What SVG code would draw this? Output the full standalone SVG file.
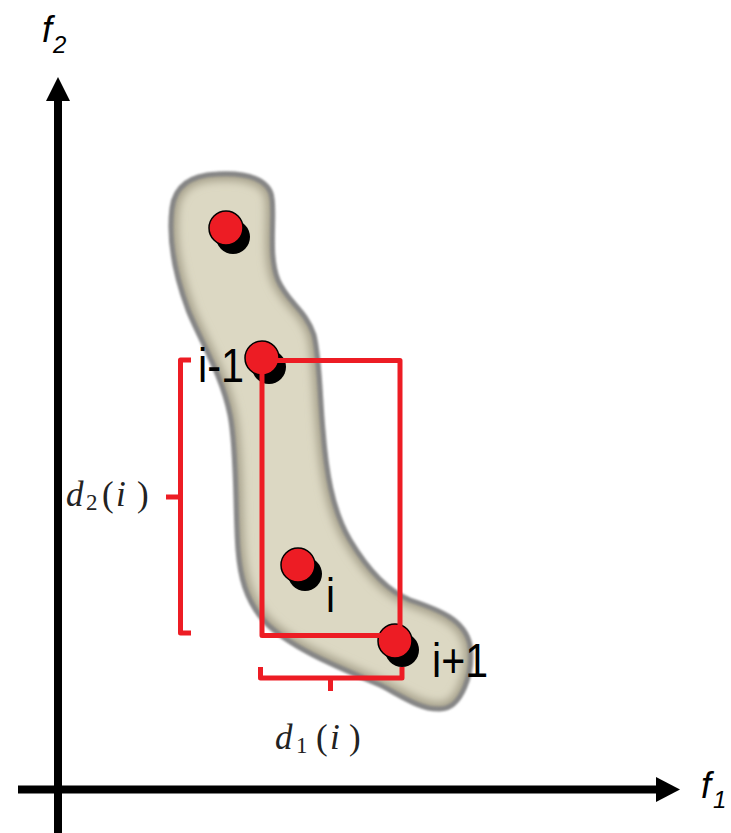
<svg xmlns="http://www.w3.org/2000/svg" width="731" height="833" viewBox="0 0 731 833">
<style>
.axis{stroke:#000;stroke-width:8;fill:none}
.red{stroke:#ed1c24;stroke-width:5;fill:none;stroke-linejoin:round;stroke-linecap:butt}
.lbl{font-family:"Liberation Sans",Arial,sans-serif;fill:#000}
.ax{font-family:"Liberation Sans",Arial,sans-serif;font-style:italic;fill:#000}
.math{font-family:"Liberation Serif","Times New Roman",serif;fill:#222}
.pr{fill:#ed1c24;stroke:#000;stroke-width:1.5}
.pb{fill:#000}
</style>
<defs>
<path id="blob" d="M 217,174 C 248,172 270,180 272,198 C 275,220 268,255 278,280 C 288,303 306,310 314,335 C 320,360 320,400 323,430 C 326,470 332,510 350,540 C 365,565 385,590 410,600 C 440,610 465,620 470,645 C 474,672 462,709 440,709 C 420,710 400,695 380,685 C 340,668 290,648 265,622 C 245,600 240,575 238,550 C 235,510 237,450 230,415 C 222,375 200,340 188,310 C 175,275 168,240 172,208 C 175,185 192,175 217,174 Z"/>
<clipPath id="bc"><use href="#blob"/></clipPath>
<filter id="blur" x="-20%" y="-20%" width="140%" height="140%"><feGaussianBlur stdDeviation="4"/></filter>
<filter id="soft" x="-20%" y="-20%" width="140%" height="140%"><feGaussianBlur stdDeviation="0.8"/></filter>
<g id="pt"><circle class="pb" cx="7" cy="9" r="17"/><circle class="pr" cx="0" cy="0" r="17"/></g>
</defs>

<g id="connectors">
<line class="axis" x1="58" y1="833" x2="58" y2="98"/>
<polygon points="58,77 46,101 70,101" fill="#000"/>
<line class="axis" x1="18" y1="789.5" x2="659" y2="789.5"/>
<polygon points="680,789.5 656,777 656,802" fill="#000"/>
</g>

<g id="axis-labels">
<text class="ax" x="42" y="42" font-size="36">f</text>
<text class="ax" x="53" y="53" font-size="24">2</text>
<text class="ax" x="701" y="798" font-size="36">f</text>
<text class="ax" x="713" y="808" font-size="24">1</text>
</g>

<g id="front">
<use href="#blob" fill="#dcd8c3"/>
<g clip-path="url(#bc)"><use href="#blob" fill="none" stroke="#a7a28d" stroke-width="14" filter="url(#blur)"/></g>
<use href="#blob" fill="none" stroke="#868686" stroke-width="5" filter="url(#soft)"/>
</g>

<g id="labels">
<text class="lbl" x="198" y="382" font-size="48" textLength="46" lengthAdjust="spacingAndGlyphs">i-1</text>
<text class="lbl" x="326" y="612" font-size="48" textLength="9" lengthAdjust="spacingAndGlyphs">i</text>
<text class="lbl" x="432" y="677" font-size="48" textLength="56" lengthAdjust="spacingAndGlyphs">i+1</text>
</g>

<g id="p1"><use href="#pt" x="226" y="228"/></g>
<g id="p-im1"><use href="#pt" x="262" y="358"/></g>
<g id="p-i"><use href="#pt" x="298" y="565"/></g>
<g id="p-ip1"><use href="#pt" x="395" y="641"/></g>

<g id="cuboid">
<rect class="red" x="262" y="360.5" width="138" height="275"/>
</g>

<g id="bracket-d2">
<path class="red" d="M 191,360 H 180.5 V 633 H 191 M 180.5,497 H 166"/>
<text class="math" font-size="35"><tspan x="66" y="506" font-style="italic">d</tspan><tspan x="86" y="510" font-size="23">2</tspan><tspan x="102" y="506">(</tspan><tspan x="116" y="506" font-style="italic">i</tspan><tspan x="137" y="506">)</tspan></text>
</g>

<g id="bracket-d1">
<path class="red" d="M 260.5,667 V 678 H 402 V 667 M 330.5,678 V 691"/>
<text class="math" font-size="35"><tspan x="275" y="749" font-style="italic">d</tspan><tspan x="296" y="753" font-size="23">1</tspan><tspan x="316" y="749">(</tspan><tspan x="330" y="749" font-style="italic">i</tspan><tspan x="349" y="749">)</tspan></text>
</g>
</svg>
